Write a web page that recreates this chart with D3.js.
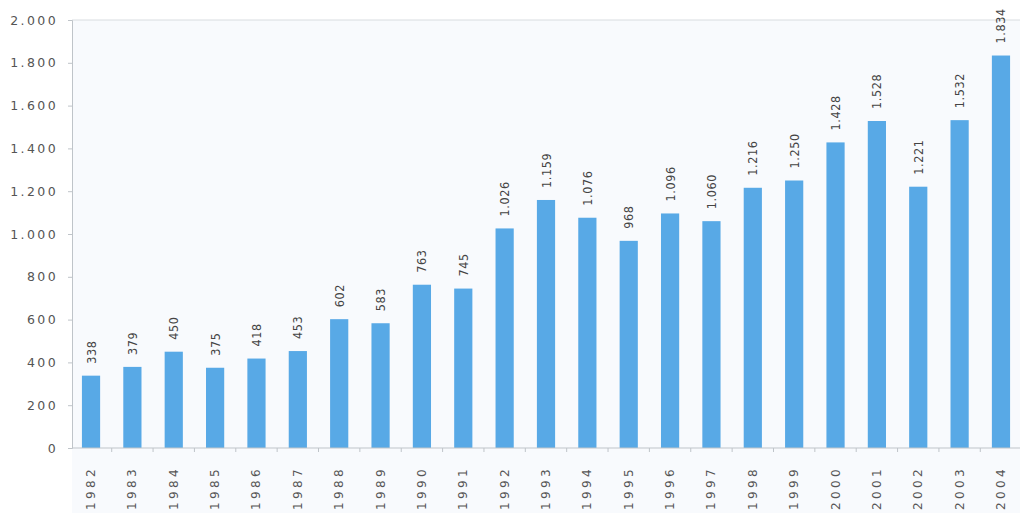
<!DOCTYPE html>
<html><head><meta charset="utf-8">
<script src="https://cdn.jsdelivr.net/npm/d3@7"></script>
<style>body{margin:0;background:#fff}svg{display:block}</style>
</head><body><svg id="c" width="1020" height="513"></svg>
<script>
const years = ["1982","1983","1984","1985","1986","1987","1988","1989","1990","1991","1992","1993","1994","1995","1996","1997","1998","1999","2000","2001","2002","2003","2004"];
const values = [338,379,450,375,418,453,602,583,763,745,1026,1159,1076,968,1096,1060,1216,1250,1428,1528,1221,1532,1834];
const yTicks = [0,200,400,600,800,1000,1200,1400,1600,1800,2000];

const svg = d3.select("#c");
const fmt = v => d3.format(",")(v).replace(/,/g, ".");
const x = d3.scaleBand().domain(years).range([72, 1020]).paddingInner(0.56).paddingOuter(0.24);
const y = d3.scaleLinear().domain([0, 2000]).range([448, 20]);
const axisCol = "#bfc4c9", txtCol = "#555";

// faint tinted plot background
svg.append("rect").attr("x", 72).attr("y", y(2000)).attr("width", 948).attr("height", 513 - y(2000)).attr("fill", "#f8fafd");
// top frame line
svg.append("line").attr("x1", 72).attr("x2", 1020).attr("y1", y(2000)).attr("y2", y(2000)).attr("stroke", "#d8dce0");

const ya = svg.append("g").attr("transform", "translate(72,0)")
  .call(d3.axisLeft(y).tickValues(yTicks).tickFormat(fmt).tickSize(4).tickPadding(10));
ya.select(".domain").attr("stroke", axisCol);
ya.selectAll(".tick line").attr("stroke", axisCol);
ya.selectAll("text").attr("fill", txtCol).style("font-family", "DejaVu Sans").style("font-size", "12.5px").style("letter-spacing", "2.4px");

svg.selectAll("rect.bar").data(values).enter().append("rect")
  .attr("x", (d, i) => x(years[i])).attr("width", x.bandwidth())
  .attr("y", d => y(d)).attr("height", d => y(0) - y(d))
  .attr("fill", "#58a9e6");

svg.selectAll("text.val").data(values).enter().append("text")
  .attr("transform", (d, i) => `translate(${x(years[i]) + x.bandwidth() / 2 + 4.5},${y(d) - 12}) rotate(-90)`)
  .attr("text-anchor", "start").attr("fill", "#444")
  .style("font-family", "'DejaVu Sans Condensed', 'DejaVu Sans'").style("font-stretch", "condensed")
  .style("font-size", "12.5px").style("letter-spacing", "0.6px")
  .text(d => fmt(d));

// x axis
const xa = svg.append("g").attr("transform", `translate(0,${y(0)})`);
xa.append("line").attr("x1", 72).attr("x2", 1020).attr("stroke", axisCol);
const bounds = years.slice(1).map((yr) => x(yr) - x.step() * x.paddingInner() / 2);
xa.selectAll("line.t").data(bounds).enter().append("line")
  .attr("x1", d => d).attr("x2", d => d).attr("y1", 0).attr("y2", 4).attr("stroke", axisCol);
xa.selectAll("text").data(years).enter().append("text")
  .attr("transform", d => `translate(${x(d) + x.bandwidth() / 2 + 4},${62}) rotate(-90)`)
  .attr("text-anchor", "start").attr("fill", txtCol)
  .style("font-family", "DejaVu Sans").style("font-size", "12px").style("letter-spacing", "3.4px")
  .text(d => d);
</script></body></html>
